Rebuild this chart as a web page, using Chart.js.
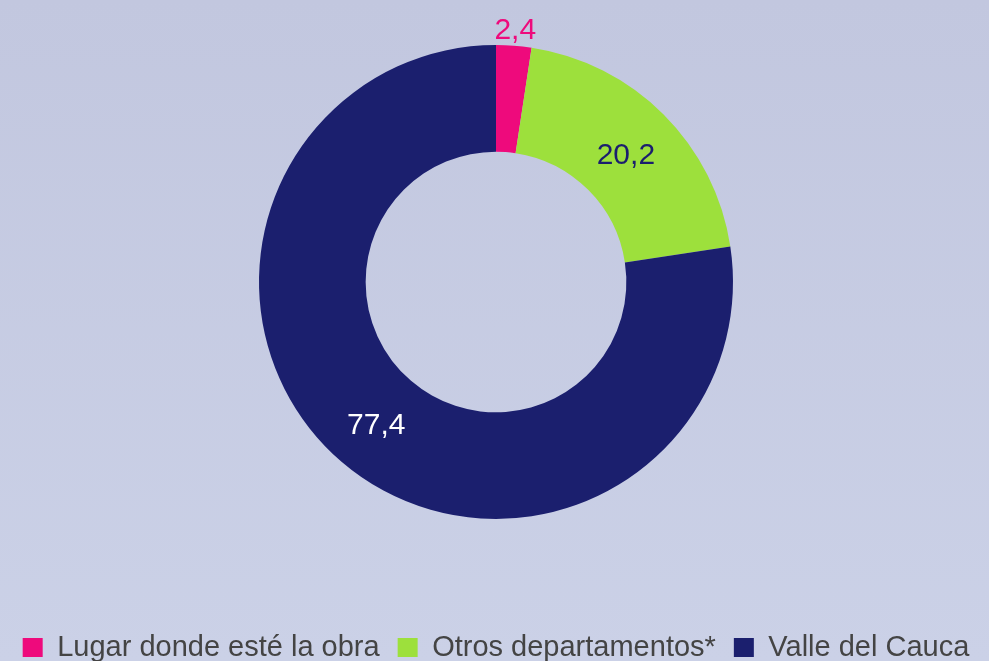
<!DOCTYPE html>
<html>
<head>
<meta charset="utf-8">
<script src="https://cdn.jsdelivr.net/npm/chart.js@4"></script>
<style>
  html, body { margin: 0; padding: 0; }
  body { width: 989px; height: 661px; background: linear-gradient(#c2c7df, #cbd1e7); }
  #wrap { width: 989px; height: 661px; }
</style>
</head>
<body>
<div id="wrap"><canvas id="c"></canvas></div>
<script>
const categories = ['Lugar donde esté la obra', 'Otros departamentos*', 'Valle del Cauca'];
const values = [2.4, 20.2, 77.4];
const colors = ['#ee0a7c', '#9de03c', '#1b1f6e'];
const labelColors = ['#ee0a7c', '#1b1f6e', '#ffffff'];

const FONT = "'Liberation Sans Narrow', 'Liberation Sans', sans-serif";

// value labels on the ring, the small slice gets its label outside
const sliceLabels = {
  id: 'sliceLabels',
  afterDatasetsDraw(chart) {
    const ctx = chart.ctx;
    const meta = chart.getDatasetMeta(0);
    ctx.save();
    ctx.font = '30px ' + FONT;
    ctx.textAlign = 'center';
    ctx.textBaseline = 'middle';
    meta.data.forEach((arc, i) => {
      const p = arc.getProps(['x', 'y', 'startAngle', 'endAngle', 'innerRadius', 'outerRadius'], true);
      const mid = (p.startAngle + p.endAngle) / 2;
      const r = i === 0 ? p.outerRadius + 19 : (p.innerRadius + p.outerRadius) / 2;
      ctx.fillStyle = labelColors[i];
      ctx.fillText(String(values[i]).replace('.', ','), p.x + Math.cos(mid) * r, p.y + Math.sin(mid) * r + 4);
    });
    ctx.restore();
  }
};

new Chart(document.getElementById('c'), {
  type: 'doughnut',
  data: {
    labels: categories,
    datasets: [{
      data: values,
      backgroundColor: colors,
      borderWidth: 0
    }]
  },
  options: {
    responsive: true,
    maintainAspectRatio: false,
    animation: false,
    radius: 237,
    cutout: '55%',
    layout: { padding: { top: 0, bottom: -11, left: 3, right: 0 } },
    plugins: {
      tooltip: { enabled: false },
      legend: {
        position: 'bottom',
        title: { display: true, text: '', font: { size: 10, lineHeight: 1 }, padding: { top: 41, bottom: 0 } },
        labels: {
          boxWidth: 20,
          boxHeight: 19,
          padding: 18,
          color: '#444444',
          font: { family: FONT, size: 29 }
        }
      }
    }
  },
  plugins: [sliceLabels]
});
</script>
</body>
</html>
